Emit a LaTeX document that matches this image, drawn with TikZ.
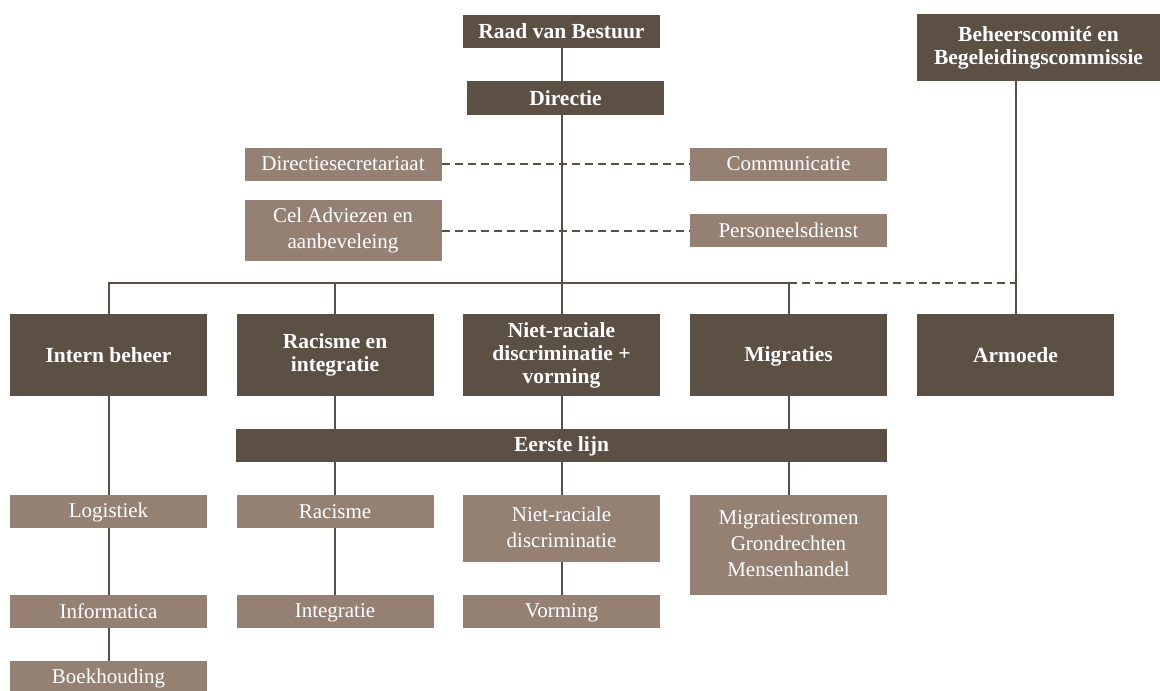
\documentclass[tikz,border=0pt]{standalone}
\usepackage{fontspec}
\setmainfont{Liberation Serif}
\usepackage{tikz}
\usepackage{xcolor}
\definecolor{darkbrown}{RGB}{92,79,68}
\definecolor{lightbrown}{RGB}{148,129,116}
\newcommand\boxstrut{\rule[-0.15em]{0pt}{0.96em}}

\begin{document}
\begin{tikzpicture}[x=1pt,y=-1pt,
	dark/.style={fill=darkbrown,text=white,font=\bfseries\fontsize{21.5}{23}\selectfont,align=center,inner sep=0pt,minimum width=197pt,minimum height=82pt,execute at begin node=\boxstrut,execute at end node=\boxstrut},
	light/.style={fill=lightbrown,text=white,font=\fontsize{21}{26}\selectfont,align=center,inner sep=0pt,minimum width=197pt,minimum height=33pt,execute at begin node=\boxstrut,execute at end node=\boxstrut},
	link/.style={draw=darkbrown,line width=2pt},
	dashlink/.style={link,dash pattern=on 8pt off 5pt}]
	\useasboundingbox (0,0) rectangle (1160,691);

	\node[dark,minimum height=33pt] (raad) at (561.5,31) {Raad van Bestuur};
	\node[dark,minimum height=34pt] (directie) at (565.5,98) {Directie};
	\node[dark,minimum width=243pt,minimum height=67pt] (comite) at (1038.5,47.5) {Beheerscomité en\\Begeleidingscommissie};

	\node[light] (secretariaat) at (343,164) {Directiesecretariaat};
	\node[light] (communicatie) at (788.5,164) {Communicatie};
	\node[light,minimum height=61pt] (adviezen) at (343,230.5) {Cel Adviezen en\\aanbeveleing};
	\node[light] (personeel) at (788.5,230.5) {Personeelsdienst};

	\node[dark] (intern) at (108.5,355) {Intern beheer};
	\node[dark] (racint) at (335,355) {Racisme en\\integratie};
	\node[dark] (niet) at (561.5,355) {Niet-raciale\\discriminatie +\\vorming};
	\node[dark] (migraties) at (788.5,355) {Migraties};
	\node[dark] (armoede) at (1015.5,355) {Armoede};
	\coordinate (bus) at (561.5,283);

	\node[dark,minimum width=651pt,minimum height=33pt] (eerste) at (561.5,445.5) {Eerste lijn};

	\node[light] (logistiek) at (108.5,511.5) {Logistiek};
	\node[light] (racisme) at (335,511.5) {Racisme};
	\node[light,minimum height=67pt] (nrd) at (561.5,528.5) {Niet-raciale\\discriminatie};
	\node[light,minimum height=100pt] (stromen) at (788.5,545) {Migratiestromen\\Grondrechten\\Mensenhandel};
	\node[light] (informatica) at (108.5,611.5) {Informatica};
	\node[light] (integratie) at (335,611.5) {Integratie};
	\node[light] (vorming) at (561.5,611.5) {Vorming};
	\node[light] (boekhouding) at (108.5,677.5) {Boekhouding};

	\draw[link] (raad.south) -- (raad.south |- directie.north);
	\draw[link] (raad.south |- directie.south) -- (niet.north);
	\draw[link] (intern.north) -- (intern.north |- bus) -- (migraties.north |- bus) -- (migraties.north);
	\draw[link] (racint.north |- bus) -- (racint.north);
	\draw[dashlink] (migraties.north |- bus) -- (armoede.north |- bus);
	\draw[link] (comite.south -| armoede.north) -- (armoede.north);
	\draw[dashlink] (secretariaat) -- (communicatie);
	\draw[dashlink] (adviezen) -- (personeel);

	\draw[link] (intern) -- (logistiek);
	\draw[link] (logistiek) -- (informatica);
	\draw[link] (informatica) -- (boekhouding);
	\draw[link] (racint.south) -- (racint.south |- eerste.north);
	\draw[link] (niet.south) -- (niet.south |- eerste.north);
	\draw[link] (migraties.south) -- (migraties.south |- eerste.north);
	\draw[link] (racisme.north |- eerste.south) -- (racisme.north);
	\draw[link] (nrd.north |- eerste.south) -- (nrd.north);
	\draw[link] (stromen.north |- eerste.south) -- (stromen.north);
	\draw[link] (racisme) -- (integratie);
	\draw[link] (nrd) -- (vorming);
\end{tikzpicture}
\end{document}
